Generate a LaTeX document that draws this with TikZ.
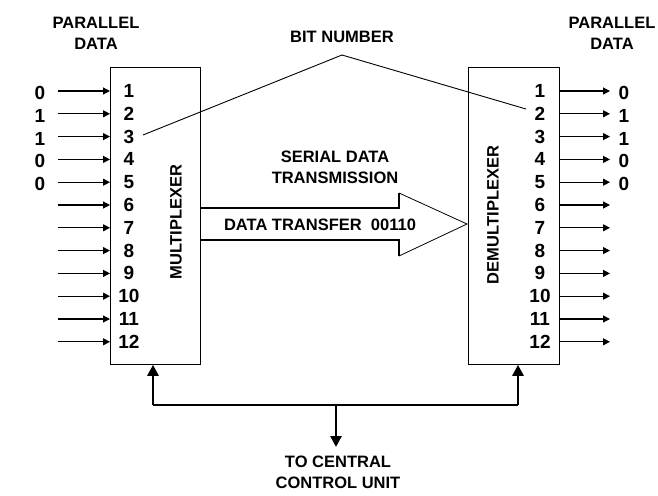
\documentclass[tikz,border=0pt]{standalone}
\usepackage{fontspec}
\setmainfont{Liberation Sans}
\usetikzlibrary{arrows.meta}
\begin{document}
\begin{tikzpicture}[x=1pt,y=-1pt,
  lbl/.style={font=\bfseries\fontsize{16.5}{21}\selectfont, align=center, inner sep=0pt},
  num/.style={font=\bfseries\fontsize{19}{21}\selectfont, inner sep=0pt},
  box/.style={draw, line width=0.8pt},
  sig/.style={line width=1.2pt, -{Triangle[length=7pt,width=7pt]}},
  bus/.style={line width=2.6pt},
  busarrow/.style={line width=2.6pt, -{Triangle[length=11pt,width=11pt]}},
  thin/.style={line width=0.9pt}]
\useasboundingbox (0,0) rectangle (658,495);
% boxes
\node[box, minimum width=90pt, minimum height=297pt, anchor=north west, inner sep=0pt] (mux) at (110,67) {};
\node[box, minimum width=91pt, minimum height=297pt, anchor=north west, inner sep=0pt] (demux) at (468,67) {};
\node[lbl, rotate=90] (muxl) at (176,222) {MULTIPLEXER};
\node[lbl, rotate=90] (demuxl) at (493,215) {DEMULTIPLEXER};
% headers
\node[lbl] (pl) at (96,33) {PARALLEL\\DATA};
\node[lbl] (pr) at (612,33) {PARALLEL\\DATA};
\node[lbl] (bit) at (342,37) {BIT NUMBER};
\node[lbl] (serial) at (335,167) {SERIAL DATA\\TRANSMISSION};
\node[lbl] (cpu) at (338,472) {TO CENTRAL\\CONTROL UNIT};
% rows
\foreach \i in {1,...,12}{
  \pgfmathsetmacro{\yy}{91+(\i-1)*22.8}
  \node[num] (ln\i) at (129,\yy) {\i};
  \node[num] (rn\i) at (540,\yy) {\i};
  \coordinate (li\i) at (58,\yy);
  \coordinate (lo\i) at (110,\yy);
  \coordinate (ri\i) at (559,\yy);
  \coordinate (ro\i) at (610,\yy);
  \draw[sig] (li\i) -- (lo\i);
  \draw[sig] (ri\i) -- (ro\i);
}
\foreach \i/\b in {1/0,2/1,3/1,4/0,5/0}{
  \node[num] (lb\i) at (40,{91+(\i-1)*22.8+2}) {\b};
  \node[num] (rb\i) at (624,{91+(\i-1)*22.8+2}) {\b};
}
% bit number lines
\coordinate (apex) at (342,55);
\coordinate (l3) at (143,135);
\coordinate (r2) at (526,109);
\draw[thin] (l3) -- (apex) -- (r2);
% big arrow
\draw[line width=1.6pt] (200,208) -- (399,208) -- (399,193);
\draw[line width=1.6pt] (399,256) -- (399,240) -- (200,240);
\draw[line width=0.8pt] (399,193) -- (467,224) -- (399,256);
\node[lbl] (xfer) at (320,225) {DATA TRANSFER\ \ 00110};
% bus
\coordinate (bl) at (153,405);
\coordinate (br) at (518,405);
\coordinate (bm) at (336,405);
\coordinate (bd) at (336,447);
\draw[bus, line join=round] (bl) -- (br);
\draw[busarrow] (bl) -- (mux.south -| bl);
\draw[busarrow] (br) -- (demux.south -| br);
\draw[busarrow] (bm) -- (bd);
\end{tikzpicture}
\end{document}
